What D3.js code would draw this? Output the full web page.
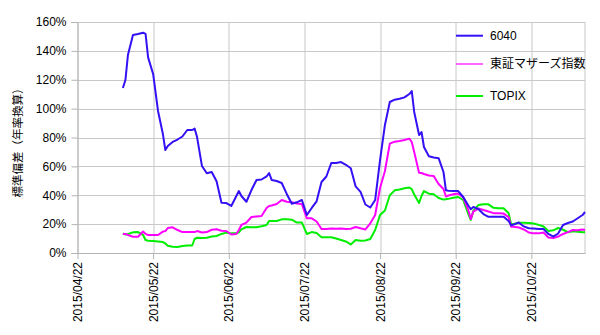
<!DOCTYPE html>
<html><head><meta charset="utf-8">
<script src="https://cdn.jsdelivr.net/npm/d3@7"></script>
<style>
html,body{margin:0;padding:0;background:#fff;}
svg{display:block;font-family:"Liberation Sans","Arial","Noto Sans CJK JP",sans-serif;}
</style></head><body>
<svg id="chart" width="600" height="335"></svg>
<script>
const dates = ["2015/05/10","2015/05/11","2015/05/12","2015/05/14","2015/05/16","2015/05/18","2015/05/19","2015/05/20","2015/05/22","2015/05/24",
"2015/05/26","2015/05/27","2015/05/28","2015/05/30","2015/06/01","2015/06/03","2015/06/05","2015/06/07","2015/06/08","2015/06/09",
"2015/06/11","2015/06/13","2015/06/15","2015/06/17","2015/06/19","2015/06/21","2015/06/23","2015/06/25","2015/06/26","2015/06/27",
"2015/06/29","2015/07/01","2015/07/03","2015/07/05","2015/07/07","2015/07/08","2015/07/09","2015/07/11","2015/07/13","2015/07/15",
"2015/07/17","2015/07/19","2015/07/21","2015/07/23","2015/07/25","2015/07/27","2015/07/29","2015/07/31","2015/08/02","2015/08/04",
"2015/08/06","2015/08/08","2015/08/10","2015/08/12","2015/08/14","2015/08/16","2015/08/18","2015/08/20","2015/08/22","2015/08/24",
"2015/08/26","2015/08/28","2015/08/30","2015/09/01","2015/09/03","2015/09/04","2015/09/05","2015/09/07","2015/09/08","2015/09/09",
"2015/09/11","2015/09/13","2015/09/15","2015/09/17","2015/09/18","2015/09/19","2015/09/21","2015/09/23","2015/09/25","2015/09/27",
"2015/09/28","2015/09/29","2015/10/01","2015/10/03","2015/10/05","2015/10/07","2015/10/09","2015/10/11","2015/10/13","2015/10/14",
"2015/10/15","2015/10/17","2015/10/19","2015/10/21","2015/10/23","2015/10/25","2015/10/27","2015/10/29","2015/10/31","2015/11/02",
"2015/11/04","2015/11/06","2015/11/08","2015/11/10","2015/11/12","2015/11/13"];

const s6040 = [114.3,119.8,137.1,151.0,151.7,152.6,151.7,135.5,124.0,98.4,
82.4,71.3,74.1,76.9,78.6,80.7,85.2,85.2,86.2,80.3,
60.3,55.2,56.1,49.7,34.8,34.6,32.6,39.5,42.9,39.5,
35.5,43.6,50.6,50.9,53.0,55.4,50.6,49.9,48.5,40.9,
34.1,35.1,36.7,26.3,31.2,35.8,49.2,53.0,62.3,62.3,
63.0,61.1,58.7,46.1,42.3,33.6,31.5,36.7,64.4,88.7,
104.6,106.2,106.8,107.8,110.1,112.2,97.7,81.7,83.8,73.4,
67.0,66.1,65.7,56.1,43.4,43.1,42.9,42.9,38.8,32.9,
30.3,31.9,30.5,27.0,25.1,25.1,25.1,25.1,22.2,19.2,
19.7,21.1,18.4,17.1,17.0,16.6,16.6,13.2,11.4,13.5,
19.4,20.8,21.8,24.1,26.3,28.4];

const sMothers = [13.2,13.2,12.5,11.3,11.3,14.9,13.2,12.5,12.5,12.5,
14.8,15.2,17.3,17.8,15.9,14.5,14.5,14.5,14.5,15.2,
14.2,14.5,16.1,16.4,15.4,15.2,12.8,13.2,15.9,19.4,
21.1,24.9,25.3,25.6,31.2,32.6,32.9,33.9,36.7,35.5,
35.1,34.2,33.9,24.0,24.0,21.8,16.6,16.6,17.0,16.8,
17.0,16.6,16.8,18.0,17.1,16.3,20.6,26.3,45.0,56.8,
75.8,77.1,77.6,78.3,79.2,76.9,70.0,55.5,55.4,54.7,
53.7,53.3,47.8,44.3,39.1,39.8,40.7,41.2,38.4,29.8,
23.5,28.7,30.8,29.8,28.7,27.6,27.5,27.3,24.9,18.2,
18.2,17.7,16.3,14.2,13.6,13.6,14.2,10.7,10.3,11.4,
13.2,14.5,15.9,15.7,16.3,15.9];

const sTopix = [13.5,12.8,13.2,14.3,14.5,12.5,9.0,8.5,8.3,8.0,
7.6,6.6,5.0,4.3,4.2,4.8,5.2,5.2,9.7,10.6,
10.4,10.6,11.4,11.8,13.2,14.1,13.6,13.6,14.3,16.3,
18.0,17.8,17.8,18.5,19.4,22.2,22.2,22.2,23.3,23.3,
23.1,21.1,21.1,13.2,14.5,13.9,10.9,10.9,10.9,10.0,
9.0,8.0,5.9,9.0,8.5,8.7,9.7,15.9,26.3,29.4,
40.0,43.4,44.0,44.8,45.3,44.3,40.5,34.6,39.5,42.9,
41.1,40.7,38.1,37.0,37.2,37.5,38.2,38.8,36.7,27.0,
22.9,29.4,33.2,33.7,33.7,31.3,31.0,31.0,27.5,19.7,
20.1,20.9,20.9,20.8,20.4,19.5,18.4,15.2,15.7,17.3,
16.1,14.4,15.1,14.8,14.4,14.3];

const xTickLabels = ["2015/04/22","2015/05/22","2015/06/22","2015/07/22","2015/08/22","2015/09/22","2015/10/22"];
const xEndLabel = "2015/11/13";
const yTicks = [0,20,40,60,80,100,120,140,160];
const seriesNames = ["6040","東証マザーズ指数","TOPIX"];
const seriesColors = ["#3311f5","#ff00ff","#00ee00"];
const yTitle = "標準偏差（年率換算）";

(function(){
const parse = d3.timeParse("%Y/%m/%d");
const fmt = d3.timeFormat("%Y/%m/%d");
const svg = d3.select("#chart");
svg.append("rect").attr("width",600).attr("height",335).attr("fill","#fff");

const mL = 77.5, mR = 585, mT = 22, mB = 253;
const W = mR - mL, H = mB - mT;

const anchors = xTickLabels.map(parse);
const endDate = parse(xEndLabel);
const monthW = W / (6 + 22/31);
const xr = anchors.map((d,i) => i*monthW);
const x = d3.scaleTime().domain([...anchors, endDate]).range([...xr, W]);
const y = d3.scaleLinear().domain([0,160]).range([H,0]);

const g = svg.append("g").attr("transform",`translate(${mL},${mT})`);
const gridColor = "#c8c8c8";

g.append("g").selectAll("line").data(yTicks).join("line")
  .attr("x1",0).attr("x2",W).attr("y1",d=>Math.round(y(d))+0.5).attr("y2",d=>Math.round(y(d))+0.5)
  .attr("stroke",gridColor).attr("stroke-width",1);
g.append("g").selectAll("line").data(anchors).join("line")
  .attr("x1",d=>Math.round(x(d))+0.5).attr("x2",d=>Math.round(x(d))+0.5).attr("y1",0).attr("y2",H)
  .attr("stroke",gridColor).attr("stroke-width",1);
g.append("line").attr("x1",Math.round(W)-0.5).attr("x2",Math.round(W)-0.5).attr("y1",0).attr("y2",H)
  .attr("stroke",gridColor);

const yAxis = g.append("g").call(d3.axisLeft(y).tickValues(yTicks).tickFormat(d=>d+"%").tickSize(6).tickPadding(5));
yAxis.select(".domain").attr("stroke","#b3b3b3");
yAxis.selectAll(".tick line").attr("stroke","#b3b3b3");
yAxis.selectAll("text").attr("font-size","12px").attr("fill","#000").attr("font-family","Liberation Sans, Arial, sans-serif");

const xAxis = g.append("g").attr("transform",`translate(0,${H})`)
  .call(d3.axisBottom(x).tickValues(anchors).tickFormat(fmt).tickSize(6).tickSizeOuter(0));
xAxis.select(".domain").attr("stroke","#b3b3b3");
xAxis.selectAll(".tick line").attr("stroke","#b3b3b3");
xAxis.selectAll("text").attr("font-size","12px").attr("fill","#000")
  .attr("font-family","Liberation Sans, Arial, sans-serif")
  .attr("transform","rotate(-90)").attr("text-anchor","end")
  .attr("x",-9).attr("y",0).attr("dy","0.35em");

const pts = dates.map(parse);
const allSeries = [s6040, sMothers, sTopix];
const line = d3.line().x((d,i)=>x(pts[i])).y(d=>y(d));
[2,1,0].forEach(k=>{
  g.append("path").datum(allSeries[k]).attr("d",line)
   .attr("fill","none").attr("stroke",seriesColors[k]).attr("stroke-width",2)
   .attr("stroke-linejoin","round");
});

const legY = [35.7, 64, 96];
const legW = [2, 1.2, 2];
seriesNames.forEach((n,i)=>{
  svg.append("line").attr("x1",456).attr("x2",483).attr("y1",legY[i]).attr("y2",legY[i])
    .attr("stroke",seriesColors[i]).attr("stroke-width",legW[i]);
  svg.append("text").attr("x",490).attr("y",legY[i]).attr("dy","0.35em")
    .attr("font-size","12px").attr("fill","#000").text(n);
});

svg.append("text").attr("transform","translate(22,140) rotate(-90)")
  .attr("text-anchor","middle").attr("font-size","11.5px").attr("fill","#000")
  .attr("font-family","Noto Sans CJK JP, sans-serif").text(yTitle);
})();
</script>
</body></html>
